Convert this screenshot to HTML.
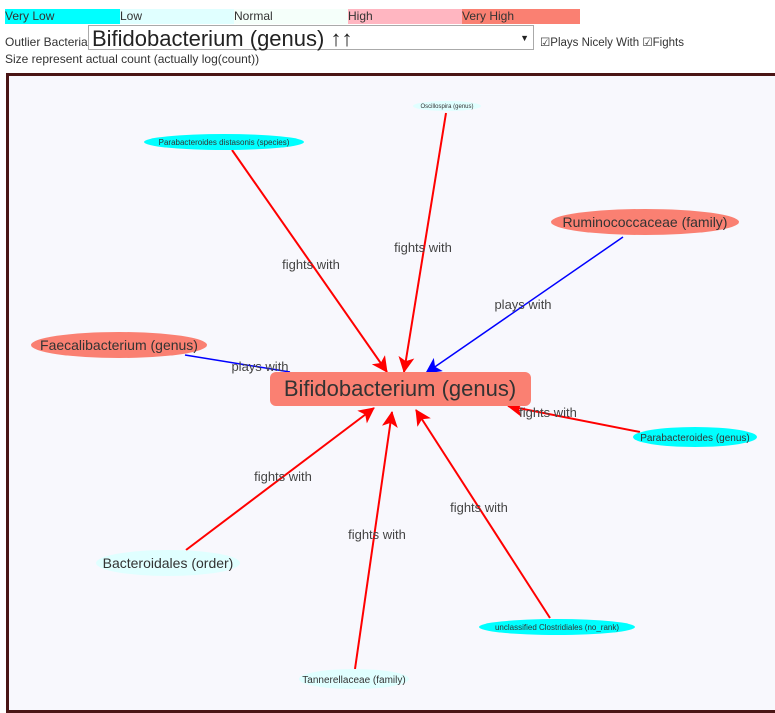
<!DOCTYPE html>
<html><head><meta charset="utf-8"><style>
body{margin:0;width:775px;height:694px;overflow:hidden;background:#fff;font-family:"Liberation Sans",sans-serif;font-size:12px;color:#333}
.leg{position:absolute;top:9px;height:15px;width:115px;line-height:15px;font-size:12px;color:#333}
</style></head><body>
<div class="leg" style="left:5px;background:#00ffff">Very Low</div>
<div class="leg" style="left:120px;background:#e0ffff">Low</div>
<div class="leg" style="left:234px;background:#f5fffa">Normal</div>
<div class="leg" style="left:348px;background:#ffb6c1">High</div>
<div class="leg" style="left:462px;background:#fa8072;width:118px">Very High</div>
<div style="position:absolute;left:5px;top:35px;font-size:12px">Outlier Bacteria</div>
<div style="position:absolute;left:88px;top:25px;width:446px;height:25px;border:1px solid #aaa;background:#fff;font-size:22px;line-height:25px;padding-left:3px;box-sizing:border-box;color:#222">Bifidobacterium (genus) ↑↑<span style="position:absolute;right:4px;top:0;font-size:9px">▼</span></div>
<div style="position:absolute;left:540px;top:35px;font-size:11.5px">☑Plays Nicely With ☑Fights</div>
<div style="position:absolute;left:5px;top:52px;font-size:12px">Size represent actual count (actually log(count))</div>
<div style="position:absolute;left:6px;top:73px;width:775px;height:640px;border:3px solid #4a1515;background:#f8f8fd;box-sizing:border-box"></div>
<svg style="position:absolute;left:0;top:0" width="775" height="694" font-family="Liberation Sans, sans-serif">
<defs>
<marker id="r" markerWidth="16" markerHeight="16" refX="15" refY="8" orient="auto" markerUnits="userSpaceOnUse" viewBox="0 0 16 16"><path d="M0,0L16,8L0,16L4,8z" fill="red"/></marker>
<marker id="b" markerWidth="16" markerHeight="16" refX="15" refY="8" orient="auto" markerUnits="userSpaceOnUse" viewBox="0 0 16 16"><path d="M0,0L16,8L0,16L4,8z" fill="blue"/></marker>
</defs>
<g stroke-width="2" fill="none">
<line x1="232" y1="150" x2="387" y2="372" stroke="red" marker-end="url(#r)"/>
<line x1="446" y1="113" x2="404" y2="372" stroke="red" marker-end="url(#r)"/>
<line x1="623" y1="237" x2="426" y2="373" stroke="blue" stroke-width="1.5" marker-end="url(#b)"/>
<line x1="185" y1="355" x2="290" y2="372" stroke="blue" stroke-width="1.5"/>
<line x1="640" y1="432" x2="508" y2="406" stroke="red" marker-end="url(#r)"/>
<line x1="186" y1="550" x2="374" y2="408" stroke="red" marker-end="url(#r)"/>
<line x1="355" y1="669" x2="392" y2="412" stroke="red" marker-end="url(#r)"/>
<line x1="550" y1="618" x2="416" y2="410" stroke="red" marker-end="url(#r)"/>
</g>
<rect x="270" y="372" width="261" height="34" rx="6" fill="#fa8072"/>
<text x="400" y="396" font-size="22" fill="#333" text-anchor="middle">Bifidobacterium (genus)</text>
<g text-anchor="middle" fill="#333">
<ellipse cx="447" cy="106" rx="34" ry="5" fill="#e0ffff"/><text x="447" y="108" font-size="6">Oscillospira (genus)</text>
<ellipse cx="224" cy="142" rx="80" ry="8" fill="#00ffff"/><text x="224" y="145" font-size="8">Parabacteroides distasonis (species)</text>
<ellipse cx="645" cy="222" rx="94" ry="13" fill="#fa8072"/><text x="645" y="227" font-size="14">Ruminococcaceae (family)</text>
<ellipse cx="119" cy="345" rx="88" ry="13" fill="#fa8072"/><text x="119" y="350" font-size="14">Faecalibacterium (genus)</text>
<ellipse cx="695" cy="437" rx="62" ry="10" fill="#00ffff"/><text x="695" y="441" font-size="10">Parabacteroides (genus)</text>
<ellipse cx="168" cy="563" rx="72" ry="13" fill="#e0ffff"/><text x="168" y="568" font-size="14">Bacteroidales (order)</text>
<ellipse cx="557" cy="627" rx="78" ry="8" fill="#00ffff"/><text x="557" y="630" font-size="8">unclassified Clostridiales (no_rank)</text>
<ellipse cx="354" cy="679" rx="55" ry="10" fill="#e0ffff"/><text x="354" y="683" font-size="10">Tannerellaceae (family)</text>
</g>
<g font-size="13" fill="#444" text-anchor="middle">
<text x="311" y="269">fights with</text>
<text x="423" y="252">fights with</text>
<text x="523" y="309">plays with</text>
<text x="260" y="371">plays with</text>
<text x="548" y="417">fights with</text>
<text x="283" y="481">fights with</text>
<text x="377" y="539">fights with</text>
<text x="479" y="512">fights with</text>
</g>
</svg>
</body></html>
